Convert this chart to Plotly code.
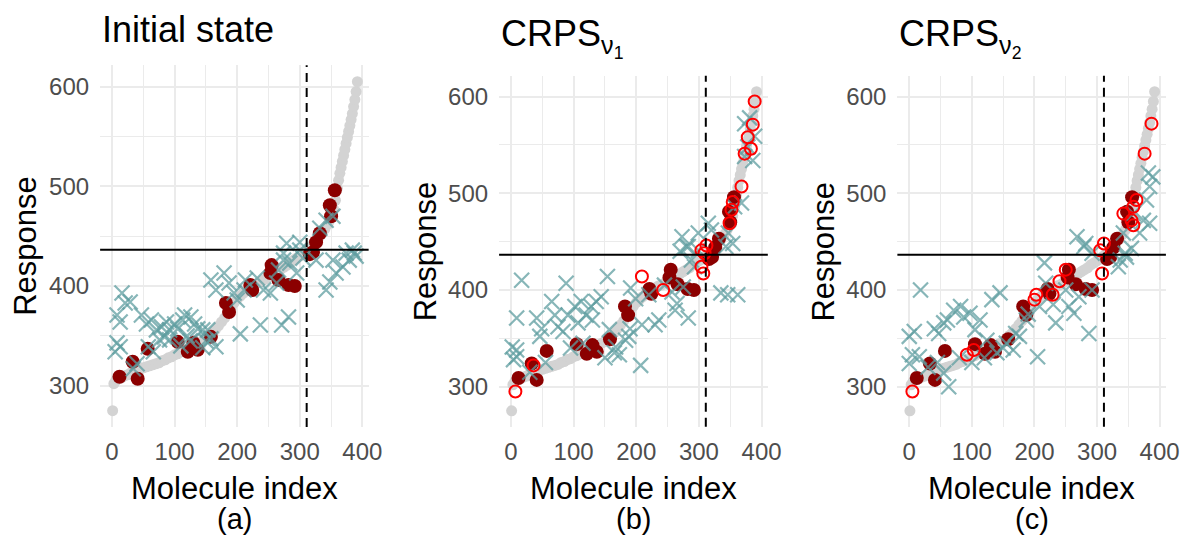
import plotly.graph_objects as go

# ---------------- data ----------------
GRAY_X = [1, 3, 6, 10, 15, 20, 25, 30, 35, 40, 45, 50, 55, 60, 65, 70, 75, 80, 85, 90,
          95, 100, 105, 110, 115, 120, 125, 130, 135, 140, 145, 150, 155, 160, 165, 170,
          175, 180, 185, 190, 195, 200, 205, 210, 215, 220, 225, 230, 235, 240, 245, 250,
          255, 260, 265, 270, 275, 280, 285, 290, 295, 300, 305, 310, 315, 320, 325, 330,
          335, 340, 345, 348, 351, 354, 357, 360, 362, 364, 366, 368, 370, 372, 374, 376,
          378, 380, 382, 384, 386, 388, 390, 392]
GRAY_Y = [275, 302, 305, 307, 308, 310, 311, 313, 314, 316, 317, 318, 319, 320, 321, 322,
          323, 325, 326, 328, 329, 331, 332, 334, 335, 337, 338, 340, 341, 343, 345, 347,
          350, 353, 356, 360, 364, 368, 373, 378, 383, 387, 390, 393, 396, 398, 400, 402,
          404, 405, 407, 409, 411, 413, 415, 417, 419, 421, 423, 426, 428, 430, 432, 435,
          438, 441, 444, 448, 452, 457, 462, 466, 471, 477, 486, 498, 506, 513, 519, 525,
          531, 537, 543, 549, 555, 561, 567, 573, 580, 587, 595, 605]

# initial training set (dark red, same in every panel)
TRAIN_X = [12, 41, 33, 57, 105, 121, 137, 130, 158, 182, 187, 221, 224, 255, 253, 266,
           282, 292, 316, 321, 326, 332, 350, 348, 356]
TRAIN_Y = [309, 307, 324, 337, 344, 334, 336, 343, 349, 383, 374, 401, 396, 421, 413, 406,
           401, 400, 432, 434, 444, 453, 470, 481, 496]

# predictions (teal crosses) per panel
PRED_A_X = [16, 21, 29, 8, 13, 8, 13, 5, 47, 55, 63, 71, 79, 87, 92, 100, 105, 113, 116,
            126, 132, 137, 58, 76, 84, 92, 40, 34, 66, 110, 125, 145, 150, 120, 166, 158,
            153, 145, 158, 166, 179, 187, 195, 200, 205, 237, 271, 282, 211, 213, 232, 242,
            253, 263, 266, 274, 284, 295, 300, 305, 326, 342, 348, 358, 369, 379, 387, 384,
            353, 279, 300, 332, 342, 353, 374, 390, 274]
PRED_A_Y = [393, 383, 384, 371, 364, 343, 339, 334, 371, 362, 366, 356, 359, 364, 356, 362,
            357, 366, 371, 369, 362, 357, 339, 346, 349, 346, 322, 317, 334, 340, 345, 338,
            345, 350, 339, 347, 356, 356, 406, 396, 413, 403, 393, 386, 352, 361, 361, 369,
            396, 406, 408, 396, 393, 403, 416, 433, 423, 413, 436, 428, 426, 396, 404, 413,
            419, 426, 433, 436, 426, 443, 444, 458, 466, 470, 433, 430, 426]

PRED_B_X = [17, 9, 2, 9, 9, 4, 41, 49, 46, 65, 70, 75, 83, 88, 91, 102, 107, 112, 120, 128,
            136, 144, 130, 154, 157, 167, 173, 183, 188, 207, 191, 199, 209, 230, 236, 262,
            265, 283, 257, 275, 270, 280, 288, 293, 299, 335, 346, 362, 343, 354, 273, 283,
            299, 315, 320, 347, 357, 368, 373, 381, 378, 373, 386, 389, 30, 55, 95, 115, 150,
            165, 190, 220, 245]
PRED_B_Y = [410, 371, 341, 338, 331, 328, 371, 360, 352, 388, 374, 362, 357, 407, 374, 383,
            366, 388, 374, 383, 388, 393, 369, 414, 359, 341, 333, 348, 352, 322, 402, 391,
            364, 364, 369, 379, 386, 371, 398, 403, 440, 445, 431, 424, 441, 397, 395, 395,
            445, 448, 455, 445, 459, 469, 462, 459, 486, 490, 572, 578, 548, 538, 534, 559,
            315, 325, 340, 345, 330, 335, 360, 395, 405]

PRED_C_X = [18, 8, 0, 5, 0, 16, 40, 47, 55, 61, 63, 55, 71, 82, 87, 97, 105, 113, 124, 132,
            145, 155, 166, 176, 205, 187, 208, 218, 216, 234, 255, 263, 287, 271, 292, 282,
            292, 334, 345, 355, 268, 279, 337, 347, 342, 368, 374, 384, 379, 384, 389, 382,
            358, 30, 45, 80, 100, 120, 140, 150, 170, 190, 230, 250]
PRED_C_Y = [400, 357, 352, 333, 324, 331, 360, 355, 366, 369, 300, 314, 379, 383, 372, 376,
            359, 369, 348, 390, 397, 345, 338, 352, 331, 369, 383, 407, 428, 366, 383, 376,
            355, 393, 400, 448, 438, 424, 438, 443, 455, 445, 431, 434, 459, 459, 472, 469,
            493, 507, 517, 521, 479, 320, 325, 330, 325, 330, 335, 340, 355, 375, 385, 400]

# newly acquired points (red open circles) for panels b and c
NEW_B_X = [7, 36, 209, 243, 304, 307, 309, 312, 389, 386, 378, 383, 373, 368, 354, 352, 349, 304]
NEW_B_Y = [295, 322, 414, 400, 424, 417, 438, 446, 595, 571, 558, 546, 541, 507, 491, 483, 469, 441]
NEW_C_X = [5, 92, 103, 203, 200, 229, 240, 250, 308, 305, 387, 376, 363, 358, 342, 355, 358, 311]
NEW_C_Y = [295, 333, 338, 395, 390, 395, 409, 421, 417, 441, 572, 541, 493, 486, 479, 472, 467, 448]

THRESHOLD_Y = 436.5
CUTOFF_X = 311

TITLES = ["Initial state", "CRPS<sub>ν<sub>1</sub></sub>", "CRPS<sub>ν<sub>2</sub></sub>"]
LABELS = ["(a)", "(b)", "(c)"]
X_TICKS = [0, 100, 200, 300, 400]
Y_TICKS = [300, 400, 500, 600]

# ---------------- layout geometry ----------------
W, H = 1197, 536
FONT = "Liberation Sans, Arial, sans-serif"
X_DOM = [(101.3, 373.0), (505.0, 776.9), (908.0, 1179.7)]
Y_DOM = [(65.2, 427.1), (75.8, 426.8), (75.8, 426.8)]
YTITLE_X = [25, 430, 833]
TITLE_TOP = [7, 11, 11]

preds = [(PRED_A_X, PRED_A_Y), (PRED_B_X, PRED_B_Y), (PRED_C_X, PRED_C_Y)]
news = [None, (NEW_B_X, NEW_B_Y), (NEW_C_X, NEW_C_Y)]

fig = go.Figure()
annotations = []
shapes = []
layout = dict(width=W, height=H, margin=dict(l=0, r=0, t=0, b=0),
              plot_bgcolor="white", paper_bgcolor="white", showlegend=False,
              font=dict(family=FONT))

teal = "rgba(95,158,160,0.75)"
for i in range(3):
    sfx = "" if i == 0 else str(i + 1)
    xr, yr = "x" + sfx, "y" + sfx
    fig.add_trace(go.Scatter(x=GRAY_X, y=GRAY_Y, mode="markers", xaxis=xr, yaxis=yr,
                             marker=dict(color="#d3d3d3", size=11, line=dict(width=0))))
    fig.add_trace(go.Scatter(x=TRAIN_X, y=TRAIN_Y, mode="markers", xaxis=xr, yaxis=yr,
                             marker=dict(color="#8b0000", size=14, line=dict(width=0))))
    px_, py_ = preds[i]
    fig.add_trace(go.Scatter(x=px_, y=py_, mode="markers", xaxis=xr, yaxis=yr,
                             marker=dict(symbol="x-thin-open", size=15, color=teal,
                                         line=dict(width=2.2, color=teal))))
    if news[i] is not None:
        nx, ny = news[i]
        fig.add_trace(go.Scatter(x=nx, y=ny, mode="markers", xaxis=xr, yaxis=yr,
                                 marker=dict(symbol="circle-open", size=12, color="#ff0000",
                                             line=dict(width=2, color="#ff0000"))))
    x0, x1 = X_DOM[i]
    y0, y1 = Y_DOM[i]
    grid = "#ebebeb"
    layout["xaxis" + sfx] = dict(domain=[x0 / W, x1 / W], range=[-19, 410], anchor=yr,
                                 tickvals=X_TICKS, showgrid=True, gridcolor=grid, gridwidth=1.8,
                                 minor=dict(dtick=50, tick0=0, showgrid=True, gridcolor=grid, gridwidth=1.2),
                                 zeroline=False, showline=False, ticks="", ticklabelstandoff=8,
                                 tickfont=dict(size=24, color="#4d4d4d", family=FONT))
    layout["yaxis" + sfx] = dict(domain=[1 - y1 / H, 1 - y0 / H], range=[258.5, 621.5], anchor=xr,
                                 tickvals=Y_TICKS, showgrid=True, gridcolor=grid, gridwidth=1.8,
                                 minor=dict(dtick=50, tick0=0, showgrid=True, gridcolor=grid, gridwidth=1.2),
                                 zeroline=False, showline=False, ticks="", ticklabelstandoff=10,
                                 tickfont=dict(size=24, color="#4d4d4d", family=FONT))
    shapes.append(dict(type="line", xref=xr + " domain", yref=yr, x0=0, x1=1,
                       y0=THRESHOLD_Y, y1=THRESHOLD_Y, line=dict(color="black", width=2)))
    shapes.append(dict(type="line", xref=xr, yref=yr + " domain", x0=CUTOFF_X, x1=CUTOFF_X,
                       y0=0, y1=1, line=dict(color="black", width=2, dash="9px,6px")))
    cx = (x0 + x1) / 2
    annotations.append(dict(text=TITLES[i], xref="paper", yref="paper", x=x0 / W,
                            y=1 - TITLE_TOP[i] / H, xanchor="left", yanchor="top", showarrow=False,
                            font=dict(size=36, color="black", family=FONT)))
    annotations.append(dict(text="Response", xref="paper", yref="paper", x=YTITLE_X[i] / W,
                            y=1 - ((y0 + y1) / 2) / H, xanchor="center", yanchor="middle",
                            textangle=-90, showarrow=False,
                            font=dict(size=31, color="black", family=FONT)))
    annotations.append(dict(text="Molecule index", xref="paper", yref="paper", x=cx / W,
                            y=1 - 488 / H, xanchor="center", yanchor="middle", showarrow=False,
                            font=dict(size=31, color="black", family=FONT)))
    annotations.append(dict(text=LABELS[i], xref="paper", yref="paper", x=cx / W,
                            y=1 - 519 / H, xanchor="center", yanchor="middle", showarrow=False,
                            font=dict(size=29, color="black", family=FONT)))

layout["annotations"] = annotations
layout["shapes"] = shapes
fig.update_layout(**layout)
fig.write_html("out.html",
               config={"displayModeBar": False},
               post_script="document.body.style.margin='0';document.body.style.padding='0';"
                           "document.documentElement.style.overflow='hidden';")
